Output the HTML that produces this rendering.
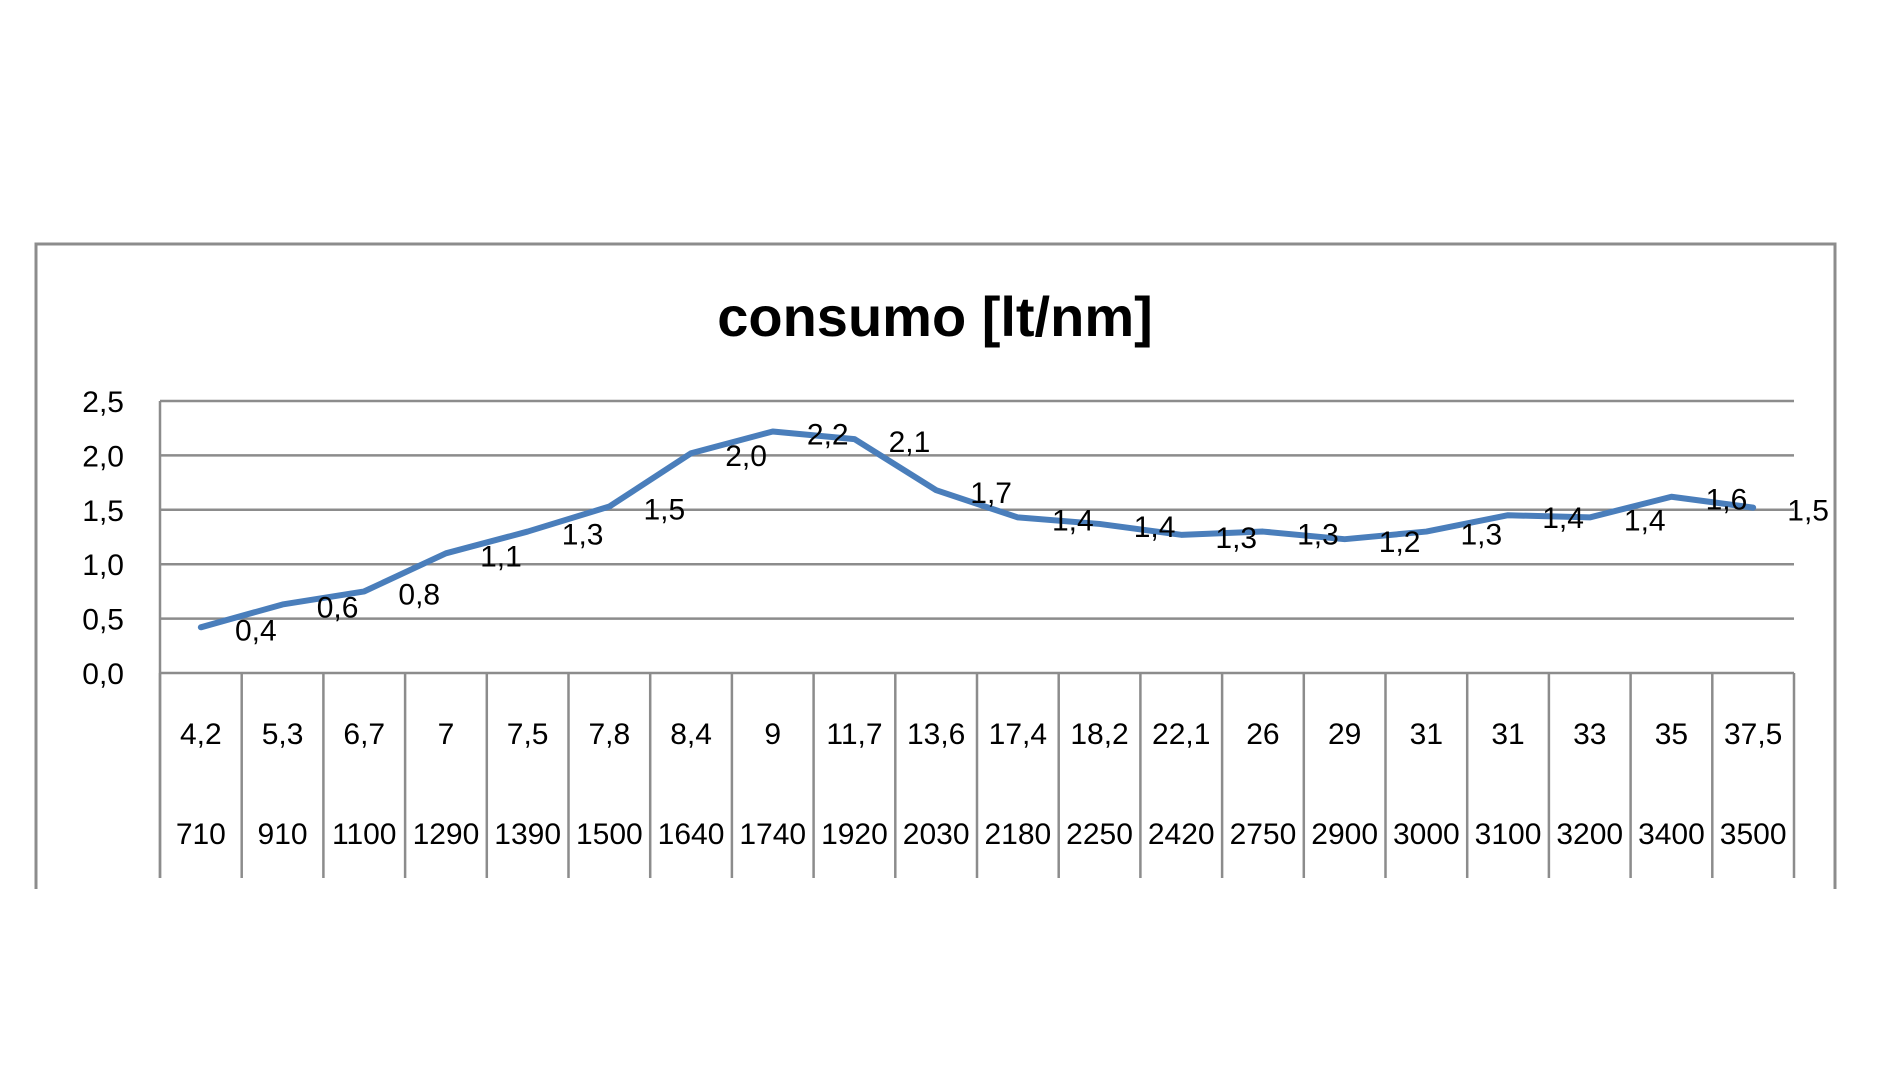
<!DOCTYPE html>
<html><head><meta charset="utf-8"><style>
html,body{margin:0;padding:0;background:#fff;}
svg{display:block;font-family:"Liberation Sans",sans-serif;}
</style></head><body>
<svg id="chart" width="1901" height="1080" viewBox="0 0 1901 1080">
<path d="M36 889 V244 H1835 V889" fill="none" stroke="#8c8c8c" stroke-width="3"/>
<text x="935" y="336" text-anchor="middle" font-size="56" font-weight="bold" fill="#000">consumo [lt/nm]</text>
<g id="grid"></g><g id="yticks"></g><g id="cats"></g><g id="series"></g><g id="labels"></g>
</svg>
<script>
const speeds = ["4,2","5,3","6,7","7","7,5","7,8","8,4","9","11,7","13,6","17,4","18,2","22,1","26","29","31","31","33","35","37,5"];
const rpms = ["710","910","1100","1290","1390","1500","1640","1740","1920","2030","2180","2250","2420","2750","2900","3000","3100","3200","3400","3500"];
const consumo = [0.42,0.63,0.75,1.1,1.3,1.53,2.02,2.22,2.15,1.68,1.43,1.37,1.27,1.3,1.23,1.3,1.45,1.43,1.62,1.52];
const yTicks = [0,0.5,1,1.5,2,2.5];
const yTickLabels = ["0,0","0,5","1,0","1,5","2,0","2,5"];

const NS="http://www.w3.org/2000/svg";
const L=160,R=1794,T=401,B=673,CB=878;
const cw=(R-L)/speeds.length;
const x=i=>L+cw*(i+0.5);
const y=v=>B-(v/2.5)*(B-T);
function mk(tag,attrs,parent){const e=document.createElementNS(NS,tag);for(const k in attrs)e.setAttribute(k,attrs[k]);document.getElementById(parent).appendChild(e);return e;}

yTicks.forEach((t,i)=>{
  const g=mk('line',{x1:L,x2:R,y1:y(t),y2:y(t),stroke:'#8c8c8c','stroke-width':2.5},'grid');
  
  
  const tx=mk('text',{x:124,y:y(t)+11,'text-anchor':'end','font-size':30,fill:'#000'},'yticks');
  tx.textContent=yTickLabels[i];
  
  
});
const ax=mk('line',{x1:L,x2:L,y1:T,y2:CB,stroke:'#8c8c8c','stroke-width':2.5},'grid');


for(let i=0;i<=speeds.length;i++){
  const s=mk('line',{x1:L+cw*i,x2:L+cw*i,y1:B,y2:CB,stroke:'#8c8c8c','stroke-width':2.5},'grid');
  
  
}
speeds.forEach((s,i)=>{
  const a=mk('text',{x:x(i),y:744,'text-anchor':'middle','font-size':30,fill:'#000'},'cats');
  a.textContent=s;
  
  
  const b=mk('text',{x:x(i),y:844,'text-anchor':'middle','font-size':30,fill:'#000'},'cats');
  b.textContent=rpms[i];
  
  
});
const pts=consumo.map((v,i)=>x(i)+','+y(v)).join(' ');
const pl=mk('polyline',{points:pts,fill:'none',stroke:'#4a7ebb','stroke-width':6,'stroke-linejoin':'round','stroke-linecap':'round'},'series');


consumo.forEach((v,i)=>{
  const t=mk('text',{x:x(i)+55,y:y(v)+13,'text-anchor':'middle','font-size':30,fill:'#000'},'labels');
  t.textContent=v.toFixed(1).replace('.',',');
  
  
});
</script>
</body></html>
